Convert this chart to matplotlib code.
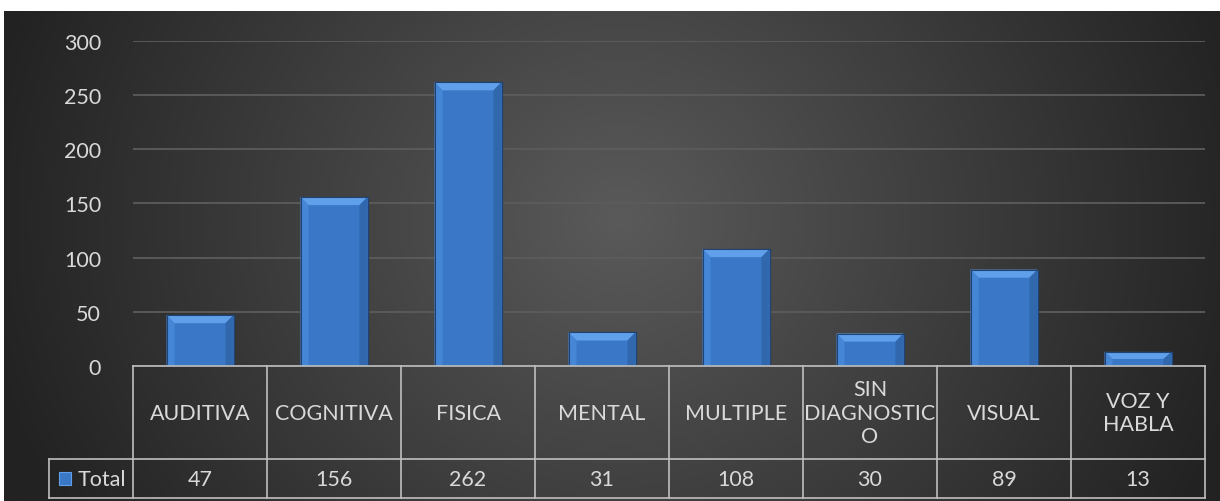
import numpy as np
import matplotlib
matplotlib.use('Agg')
import matplotlib.pyplot as plt
from matplotlib.patches import Polygon, Rectangle

categories = ['AUDITIVA', 'COGNITIVA', 'FISICA', 'MENTAL', 'MULTIPLE',
              'SIN\nDIAGNOSTIC\nO', 'VISUAL', 'VOZ Y\nHABLA']
totals = [47, 156, 262, 31, 108, 30, 89, 13]
series_name = 'Total'
yticks = [0, 50, 100, 150, 200, 250, 300]

plt.rcParams['font.family'] = ['Lato', 'DejaVu Sans']
txt_color = '#d9d9d9'
line_color = '#bfbfbf'

W, H = 1220, 502
fig = plt.figure(figsize=(W / 100, H / 100), dpi=100)
fig.patch.set_facecolor('white')

# dark radial background
bg = fig.add_axes([4 / W, 0, 1 - 4 / W, 490 / H], zorder=-10)
xx, yy = np.meshgrid(np.linspace(4, W, 400), np.linspace(12, H, 200))
d = np.sqrt(((xx - 620) / 650) ** 2 + ((yy - 220) / 600) ** 2)
d = np.clip(d, 0, 1)
inner, outer = 0x5a / 255, 0x22 / 255
g = inner + (outer - inner) * d
bg.imshow(np.dstack([g, g, g]), aspect='auto', extent=[0, 1, 0, 1])
bg.axis('off')

# fragment of the title cut off at the top
fig.text(614 / W, 1 + 3 / H, 'y', color='black', fontsize=14, ha='center', va='baseline')

ax = fig.add_axes([133 / W, 1 - 367 / H, 1072 / W, 325 / H])
ax.patch.set_alpha(0)
x = np.arange(len(categories))
bw = 0.5
ax.bar(x, totals, width=bw, color='#3a77c6', edgecolor='#1f4372', linewidth=0.8, zorder=3)

# bevel on each bar
bx, by = 0.06, 7.5
for xi, v in zip(x, totals):
    l, r = xi - bw / 2, xi + bw / 2
    b = min(by, v / 2)
    ax.add_patch(Polygon([(l, v), (r, v), (r - bx, v - b), (l + bx, v - b)],
                         closed=True, facecolor='#60a0ea', edgecolor='none', zorder=4))
    ax.add_patch(Polygon([(l, 0), (l, v), (l + bx, v - b), (l + bx, 0)],
                         closed=True, facecolor='#4686d6', edgecolor='none', zorder=4))
    ax.add_patch(Polygon([(r, 0), (r, v), (r - bx, v - b), (r - bx, 0)],
                         closed=True, facecolor='#3168ad', edgecolor='none', zorder=4))
    ax.add_patch(Rectangle((l, 0), bw, v, facecolor='none', edgecolor='#1f4372',
                           linewidth=0.8, zorder=5))

ax.set_xlim(-0.5, len(categories) - 0.5)
ax.set_ylim(0, 300)
ax.set_yticks(yticks)
ax.set_xticks([])
ax.yaxis.grid(True, color='#5c5c5c', linewidth=1.3, zorder=0)
ax.set_axisbelow(True)
for s in ax.spines.values():
    s.set_visible(False)
ax.tick_params(axis='y', length=0, pad=23, labelsize=15.5, labelcolor=txt_color)

# data table under the axis
tr = ax.get_xaxis_transform()
y_mid = -93 / 325
y_bot = -132 / 325
x_left = -0.5 - 84 / 134
n = len(categories)
lkw = dict(color=line_color, linewidth=1.2, transform=tr, clip_on=False, zorder=6)
ax.plot([-0.5, n - 0.5], [0, 0], **lkw)
ax.plot([x_left, n - 0.5], [y_mid, y_mid], **lkw)
ax.plot([x_left, n - 0.5], [y_bot, y_bot], **lkw)
ax.plot([x_left, x_left], [y_mid, y_bot], **lkw)
for i in range(n + 1):
    ax.plot([i - 0.5, i - 0.5], [0, y_bot], **lkw)

for xi, cat, v in zip(x, categories, totals):
    ax.text(xi, y_mid / 2, cat, transform=tr, ha='center', va='center',
            fontsize=15.5, color=txt_color, linespacing=1.2, clip_on=False)
    ax.text(xi, (y_mid + y_bot) / 2, str(v), transform=tr, ha='center', va='center',
            fontsize=15.5, color=txt_color, clip_on=False)

# legend key and series name
key_x = -0.5 - 74 / 134
ax.add_patch(Rectangle((key_x, (y_mid + y_bot) / 2 - 6.5 / 325), 12 / 134, 13 / 325,
                       transform=tr, facecolor='#3a77c6', edgecolor='#60a0ea',
                       linewidth=0.8, clip_on=False, zorder=6))
ax.text(-0.5 - 55 / 134, (y_mid + y_bot) / 2, series_name, transform=tr, ha='left',
        va='center', fontsize=15.5, color=txt_color, clip_on=False)

fig.savefig('out.png', dpi=100)
